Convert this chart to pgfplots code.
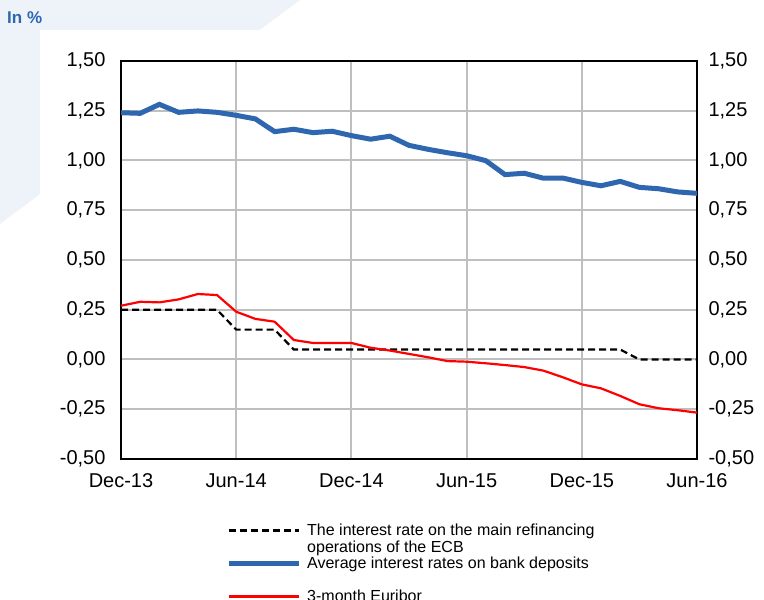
\documentclass[border=0pt]{standalone}
\usepackage{pgfplots}
\pgfplotsset{compat=1.18}
\usepackage{fontspec}
\setmainfont{Liberation Sans}
\definecolor{lineblue}{RGB}{46,103,175}
\definecolor{bgblue}{RGB}{238,242,249}
\definecolor{gridgray}{RGB}{191,191,191}
\pgfplotstableread{
m mro dep eur
0 0.25 1.240 0.270
1 0.25 1.237 0.290
2 0.25 1.282 0.287
3 0.25 1.242 0.302
4 0.25 1.249 0.329
5 0.25 1.242 0.324
6 0.15 1.227 0.240
7 0.15 1.209 0.204
8 0.15 1.145 0.190
9 0.05 1.157 0.098
10 0.05 1.140 0.083
11 0.05 1.147 0.083
12 0.05 1.125 0.083
13 0.05 1.107 0.059
14 0.05 1.122 0.045
15 0.05 1.076 0.028
16 0.05 1.056 0.011
17 0.05 1.039 -0.008
18 0.05 1.024 -0.011
19 0.05 0.999 -0.019
20 0.05 0.929 -0.028
21 0.05 0.936 -0.038
22 0.05 0.911 -0.056
23 0.05 0.912 -0.089
24 0.05 0.890 -0.125
25 0.05 0.873 -0.145
26 0.05 0.895 -0.183
27 0.00 0.865 -0.225
28 0.00 0.858 -0.245
29 0.00 0.842 -0.255
30 0.00 0.835 -0.267
}\datatable
\begin{document}
\begin{tikzpicture}[x=1bp,y=1bp]
\useasboundingbox (0,0) rectangle (764,600);
\clip (0,0) rectangle (764,600);
\fill[bgblue] (0,600) -- (300,600) -- (0,376) -- cycle;
\fill[white] (40,0) rectangle (764,570);
\node[anchor=base west, inner sep=0pt, text=lineblue, font=\fontsize{17bp}{20bp}\selectfont\bfseries] at (7,576) {In \%};
\begin{axis}[
  at={(121bp,141bp)}, anchor=south west,
  scale only axis, width=576bp, height=398bp,
  xmin=0, xmax=30, ymin=-0.5, ymax=1.5,
  xtick={0,6,12,18,24,30},
  xticklabels={Dec-13,Jun-14,Dec-14,Jun-15,Dec-15,Jun-16},
  ytick={-0.5,-0.25,0,0.25,0.5,0.75,1,1.25,1.5},
  yticklabels={{-0,50},{-0,25},{0,00},{0,25},{0,50},{0,75},{1,00},{1,25},{1,50}},
  grid=major, major grid style={draw=gridgray, line width=2bp},
  axis line style={draw=black, line width=2bp},
  major tick length=0pt,
  tick label style={font=\fontsize{20bp}{24bp}\selectfont},
  xticklabel style={yshift=-11bp},
  yticklabel style={xshift=-12bp},
  legend image code/.code={\draw[#1] (0bp,1.5bp) -- (70bp,1.5bp);},
  legend style={at={(rel axis cs:0.1823,-0.1626)}, anchor=north west,
    draw=none, fill=none, inner sep=0pt, row sep=17bp, column sep=6bp,
    font=\fontsize{16bp}{17bp}\selectfont,
    nodes={inner sep=0pt, text height=12bp, text depth=4bp}},
  legend cell align=left,
]
\addplot[black, line width=2.2bp, dash pattern=on 7bp off 4bp] table[x=m,y=mro]{\datatable};
\addlegendentry{\begin{tabular}[t]{@{}l@{}}The interest rate on the main refinancing\\operations of the ECB\end{tabular}}
\addplot[lineblue, line width=5bp] table[x=m,y=dep]{\datatable};
\addlegendentry{Average interest rates on bank deposits}
\addplot[red, line width=2.2bp] table[x=m,y=eur]{\datatable};
\addlegendentry{3-month Euribor}
\end{axis}
\begin{axis}[
  at={(121bp,141bp)}, anchor=south west,
  scale only axis, width=576bp, height=398bp,
  xmin=0, xmax=30, ymin=-0.5, ymax=1.5,
  hide x axis, axis y line*=right, axis line style={draw=none},
  ytick={-0.5,-0.25,0,0.25,0.5,0.75,1,1.25,1.5},
  yticklabels={{-0,50},{-0,25},{0,00},{0,25},{0,50},{0,75},{1,00},{1,25},{1,50}},
  major tick length=0pt,
  tick label style={font=\fontsize{20bp}{24bp}\selectfont},
  yticklabel style={xshift=8bp},
]
\end{axis}
\end{tikzpicture}
\end{document}
